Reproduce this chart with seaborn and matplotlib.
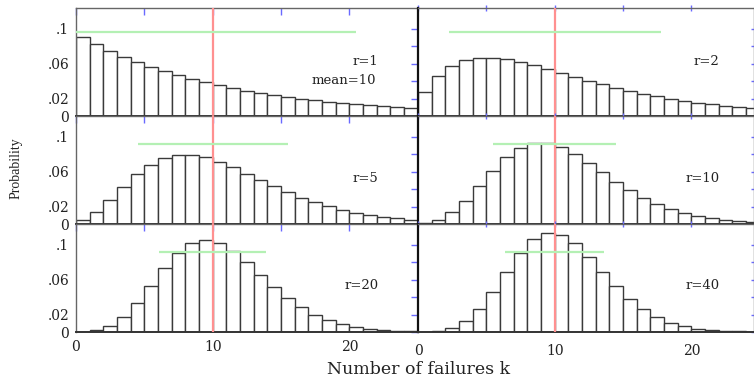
import matplotlib
matplotlib.use("Agg")
import matplotlib.pyplot as plt
import seaborn as sns
import pandas as pd

# number of failures k (bar left edges) and probabilities
k_vals = list(range(25))

p_r1 = [.0909, .0826, .0751, .0683, .0621, .0564, .0513, .0467, .0424, .0386,
        .0351, .0319, .0290, .0263, .0240, .0218, .0198, .0180, .0164, .0149,
        .0135, .0123, .0112, .0102, .0092]
p_r2 = [.0278, .0463, .0579, .0643, .0670, .0670, .0651, .0620, .0581, .0538,
        .0493, .0449, .0405, .0364, .0325, .0289, .0255, .0225, .0198, .0174,
        .0152, .0133, .0116, .0101, .0087]
p_r5 = [.0041, .0137, .0274, .0427, .0569, .0683, .0759, .0795, .0795, .0766,
        .0715, .0650, .0577, .0503, .0431, .0364, .0304, .0250, .0204, .0164,
        .0132, .0104, .0082, .0064, .0050]
p_r10 = [.0010, .0049, .0134, .0269, .0436, .0611, .0764, .0873, .0927, .0927,
         .0881, .0801, .0701, .0593, .0487, .0390, .0304, .0233, .0175, .0129,
         .0093, .0067, .0047, .0033, .0023]
p_r20 = [.0003, .0020, .0070, .0172, .0329, .0526, .0731, .0905, .1018, .1056,
         .1021, .0928, .0799, .0656, .0515, .0389, .0284, .0200, .0137, .0092,
         .0059, .0038, .0023, .0014, .0009]
p_r40 = [.0001, .0011, .0044, .0122, .0262, .0462, .0693, .0910, .1070, .1141,
         .1118, .1017, .0864, .0691, .0523, .0377, .0259, .0171, .0108, .0066,
         .0039, .0022, .0012, .0007, .0003]

panel_probs = [p_r1, p_r2, p_r5, p_r10, p_r20, p_r40]
panel_labels = ["r=1", "r=2", "r=5", "r=10", "r=20", "r=40"]
label_x = [21.2, 21.1, 21.2, 20.8, 20.9, 20.8]
label_y = [0.063, 0.063, 0.052, 0.052, 0.053, 0.053]

mean_k = 10
# green bar: mean +/- one standard deviation, drawn at a fixed height
sd_lo = [-0.5, 2.25, 4.5, 5.5, 6.1, 6.4]
sd_hi = [20.5, 17.75, 15.5, 14.5, 13.9, 13.6]
sd_y = [0.097, 0.097, 0.092, 0.092, 0.092, 0.092]

ytick_vals = [0, .02, .04, .06, .08, .1]
ytick_text = ["0", ".02", "", ".06", "", ".1"]
xtick_vals = [0, 5, 10, 15, 20]
xtick_text = ["0", "", "10", "", "20"]

sns.set_style("white")
plt.rcParams["font.family"] = ["DejaVu Serif", "DejaVu Sans"]

W, H = 754, 381
fig = plt.figure(figsize=(W / 100, H / 100), dpi=100)

col_px = [(76, 418), (418, 754)]
row_px = [(8, 116), (116, 224), (224, 332)]
tick_blue = "#6a6aff"

for i, probs in enumerate(panel_probs):
    row, col = divmod(i, 2)
    x0, x1 = col_px[col]
    y0, y1 = row_px[row]
    ax = fig.add_axes([x0 / W, 1 - y1 / H, (x1 - x0) / W, (y1 - y0) / H])

    df = pd.DataFrame({"k": k_vals, "p": probs})
    sns.histplot(data=df, x="k", weights="p", binwidth=1, binrange=(0, 25),
                 ax=ax, color="white", edgecolor="#3a3a3a", linewidth=1.0,
                 alpha=1, legend=False)

    ax.axvline(mean_k, color="#ff9090", lw=1.6, zorder=3)
    ax.hlines(sd_y[i], sd_lo[i], sd_hi[i], color="#b4f0b4", lw=1.6, zorder=3)

    ax.text(label_x[i], label_y[i], panel_labels[i], ha="center", va="center",
            fontsize=9.5, color="#222222")
    if i == 0:
        ax.text(19.6, 0.041, "mean=10", ha="center", va="center", fontsize=9.5,
                color="#222222")

    ax.set_xlim(0, (x1 - x0) / 13.67)
    ax.set_ylim(0, 0.124)
    ax.set_xlabel("")
    ax.set_ylabel("")

    ax.set_xticks(xtick_vals)
    ax.set_yticks(ytick_vals)
    if row == 2:
        ax.set_xticklabels(xtick_text, fontsize=10)
    else:
        ax.set_xticklabels([])
    if col == 0:
        ax.set_yticklabels(ytick_text, fontsize=10)
    else:
        ax.set_yticklabels([])

    ax.tick_params(axis="both", which="both", colors=tick_blue, labelcolor="#222222",
                   length=5, width=1, top=True, right=True,
                   direction="inout" if col == 1 else "in")
    ax.tick_params(axis="y", pad=5)
    ax.tick_params(axis="x", pad=6)

    for side, sp in ax.spines.items():
        sp.set_color("#666666")
        sp.set_linewidth(1.0)
        sp.set_visible(True)
    if col == 1:
        ax.spines["left"].set_color("#111111")
        ax.spines["left"].set_linewidth(1.6)
    ax.spines["bottom"].set_color("#333333")
    ax.spines["bottom"].set_linewidth(1.4)

fig.text(419 / W, 1 - 370 / H, "Number of failures k", ha="center", va="center",
         fontsize=12.5, color="#222222")
fig.text(16 / W, 1 - 168 / H, "Probability", ha="center", va="center",
         rotation=90, fontsize=10, color="#222222",
         family=["Liberation Serif", "DejaVu Sans"])

fig.savefig("out.png", dpi=100)
plt.close(fig)
